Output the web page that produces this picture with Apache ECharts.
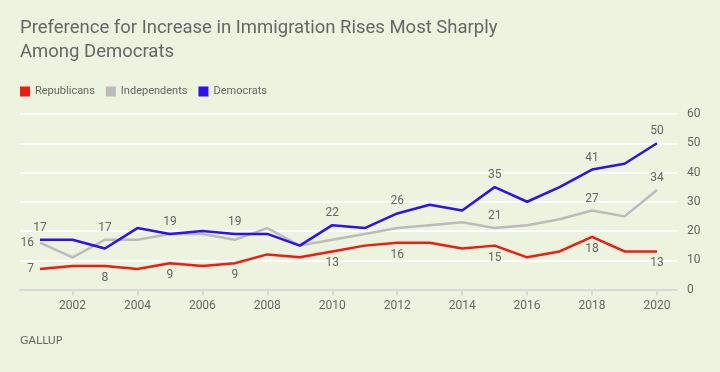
<!DOCTYPE html>
<html>
<head>
<meta charset="utf-8">
<script src="https://cdn.jsdelivr.net/npm/echarts@6/dist/echarts.min.js"></script>
<style>
html,body{margin:0;padding:0;background:#ecf3de;}
#c{width:720px;height:372px;}
</style>
</head>
<body>
<div id="c"></div>
<script>
const years = [2001,2002,2003,2004,2005,2006,2007,2008,2009,2010,2011,2012,2013,2014,2015,2016,2017,2018,2019,2020];
const republicans = [7,8,8,7,9,8,9,12,11,13,15,16,16,14,15,11,13,18,13,13];
const independents = [16,11,17,17,19,19,17,21,15,17,19,21,22,23,21,22,24,27,25,34];
const democrats = [17,17,14,21,19,20,19,19,15,22,21,26,29,27,35,30,35,41,43,50];
const xTickLabels = [2002,2004,2006,2008,2010,2012,2014,2016,2018,2020];
const yTicks = [0,10,20,30,40,50,60];

// which years get a value label, and on which side
const repLabelYears = {2001:'left',2003:'bottom',2005:'bottom',2007:'bottom',2010:'bottom',2012:'bottom',2015:'bottom',2018:'bottom',2020:'bottom'};
const indLabelYears = {2001:'left',2003:'top',2015:'top',2018:'top',2020:'top'};
const demLabelYears = {2001:'top',2005:'top',2007:'top',2010:'top',2012:'top',2015:'top',2018:'top',2020:'top'};

const TXT = '#666666';
const FONT = 'Roboto, "Liberation Sans", Arial, sans-serif';

function build(values, spec) {
  return years.map((y, i) => {
    const item = { value: [y, values[i]] };
    if (spec[y]) {
      item.label = { show: true, position: spec[y], distance: 6 };
    }
    return item;
  });
}

function mkSeries(name, color, values, spec, z) {
  return {
    name, type: 'line', data: build(values, spec),
    symbol: 'circle', symbolSize: 0.01, showSymbol: true, z,
    lineStyle: { color, width: 2.5 },
    itemStyle: { color },
    label: { show: false, color: TXT, fontSize: 12, fontFamily: FONT, formatter: p => p.value[1] },
    labelLayout: { hideOverlap: false },
    emphasis: { disabled: true },
    animation: false
  };
}

const chart = echarts.init(document.getElementById('c'), null, { renderer: 'canvas' });
chart.setOption({
  backgroundColor: '#ecf3de',
  animation: false,
  title: {
    text: 'Preference for Increase in Immigration Rises Most Sharply\nAmong Democrats',
    left: 15, top: 11,
    textStyle: { color: '#666666', fontSize: 18.5, fontWeight: 'normal', fontFamily: FONT, lineHeight: 24 }
  },
  legend: {
    left: 15, top: 81, icon: 'rect', itemWidth: 10, itemHeight: 10, itemGap: 11,
    textStyle: { color: TXT, fontSize: 11, fontFamily: FONT },
    data: ['Republicans', 'Independents', 'Democrats']
  },
  graphic: [{
    type: 'text', left: 20, top: 336,
    style: { text: 'GALLUP', fill: '#666666', fontSize: 11, fontFamily: '"DejaVu Sans", sans-serif' }
  }],
  grid: { left: 20, right: 43, top: 114, bottom: 82.5, containLabel: false },
  xAxis: {
    type: 'value', min: 2000.384, max: 2020.616,
    splitLine: { show: false },
    axisLine: { show: true, lineStyle: { color: '#d9d9d9', width: 2 } },
    axisTick: { show: true, customValues: xTickLabels, length: 6, lineStyle: { color: '#d9d9d9', width: 2 } },
    axisLabel: { customValues: xTickLabels, color: TXT, fontSize: 12, fontFamily: FONT, margin: 10, formatter: v => String(v) }
  },
  yAxis: {
    type: 'value', position: 'right', min: 0, max: 60, interval: 10,
    axisLine: { show: false }, axisTick: { show: false },
    splitLine: { show: true, lineStyle: { color: '#ffffff', width: 2 } },
    axisLabel: { color: TXT, fontSize: 12, fontFamily: FONT, margin: 10, customValues: yTicks }
  },
  series: [
    mkSeries('Republicans', '#f21b0f', republicans, repLabelYears, 3),
    mkSeries('Independents', '#bbbbbb', independents, indLabelYears, 2),
    mkSeries('Democrats', '#2f0ff5', democrats, demLabelYears, 4)
  ]
});
</script>
</body>
</html>
